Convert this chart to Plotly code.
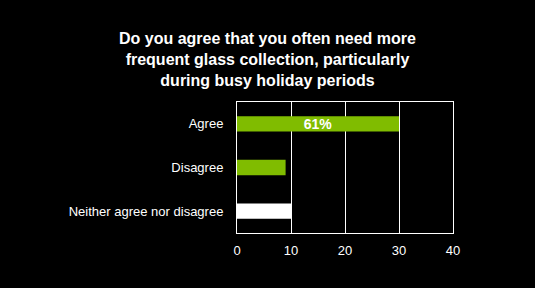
import plotly.graph_objects as go

categories = ["Agree", "Disagree", "Neither agree nor disagree"]
values = [30, 9, 10]
bar_labels = ["61%", "", ""]
bar_colors = ["#80BC00", "#80BC00", "#FFFFFF"]
tick_vals = [0, 10, 20, 30, 40]
title_text = ("<b>Do you agree that you often need more<br>"
              "frequent glass collection, particularly<br>"
              "during busy holiday periods</b>")

fig = go.Figure(go.Bar(
    y=categories, x=values, orientation="h",
    marker=dict(color=bar_colors, line=dict(width=0)),
    text=bar_labels, textposition="inside", insidetextanchor="middle",
    textfont=dict(color="white", size=14, family="Liberation Sans, Arial"),
    texttemplate="<b>%{text}</b>",
))

fig.update_layout(
    width=535, height=288,
    paper_bgcolor="black", plot_bgcolor="black",
    margin=dict(l=237, r=82, t=102, b=55),
    bargap=0.65,
    showlegend=False,
    uniformtext=dict(minsize=14, mode="show"),
    font=dict(family="Liberation Sans, Arial", color="white"),
)
fig.add_annotation(
    text=title_text, xref="paper", yref="paper", x=0.141, y=1,
    xanchor="center", yanchor="bottom", yshift=11, showarrow=False,
    font=dict(size=16, color="white", family="Liberation Sans, Arial"),
)
fig.update_xaxes(
    range=[0, 40], tickvals=tick_vals, showgrid=True, gridcolor="white", gridwidth=1,
    showline=True, linecolor="white", linewidth=1, mirror=True, zeroline=False,
    tickfont=dict(size=13, color="white"), ticks="", ticklen=0, ticklabelstandoff=5,
)
fig.update_yaxes(
    autorange="reversed", showline=True, linecolor="white", linewidth=1, mirror=True,
    tickfont=dict(size=13, color="white"), ticks="", ticklabelstandoff=10,
)

fig.write_html("out.html")
